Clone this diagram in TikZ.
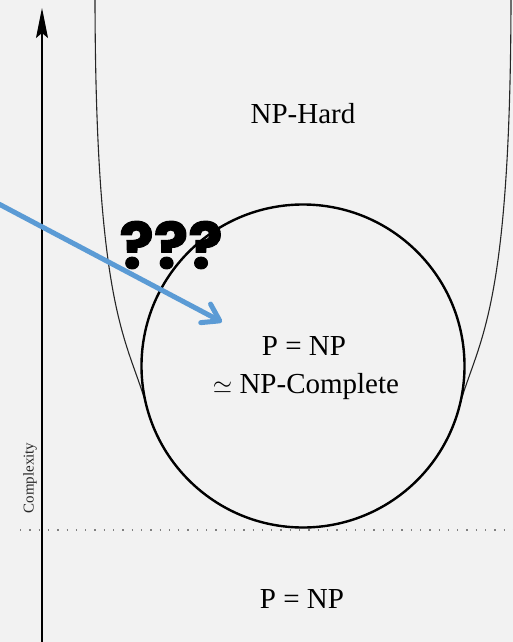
\documentclass[tikz,border=0pt]{standalone}
\usepackage{fontspec}
\setmainfont{Liberation Serif}
\newfontfamily\qfont{Poppins}[BoldFeatures={FakeBold=1.5}]
\usetikzlibrary{arrows.meta}
\definecolor{bg}{HTML}{F2F2F2}
\definecolor{arrowblue}{HTML}{5B9BD5}
\begin{document}
\begin{tikzpicture}[x=1pt,y=-1pt,
  lbl/.style={font=\fontsize{29}{34}\selectfont, inner sep=0pt, anchor=base},
  setcircle/.style={circle, draw=black, line width=2.4pt, minimum size=323pt, inner sep=0pt},
  uline/.style={draw=black!85, line width=1.1pt},
  axisline/.style={draw=black, line width=1.3pt, -{Stealth[length=30pt,width=12pt,inset=5pt]}},
  dotline/.style={draw=black!50, line width=1.3pt, dash pattern=on 1.3pt off 8pt},
  bluearrow/.style={draw=arrowblue, line width=5pt, line cap=round,
    -{Straight Barb[length=16pt,width=21pt,round]}},
  qmarks/.style={font=\qfont\bfseries\fontsize{64}{70}\selectfont, inner sep=0pt}
]
\useasboundingbox (0,0) rectangle (513,642);
\fill[bg] (0,0) rectangle (513,642);
\clip (0,0) rectangle (513,642);

% U-shaped NP-hard boundary
\draw[uline] (95,-2) .. controls (95.5,320) and (128.9,340.4) .. (147.1,408)
  arc[start angle=164.9, end angle=15.1, radius=161.5]
  .. controls (477.1,340.4) and (510.5,320) .. (511,-2);

% circle P = NP = NP-complete
\node[setcircle] (setc) at (303,366) {};

% dotted level line
\coordinate (dl) at (20,530);
\coordinate (dr) at (514,530);
\draw[dotline] (dl) -- (dr);

% complexity axis
\coordinate (ab) at (42,643);
\coordinate (at) at (42,8);
\draw[axisline] (ab) -- (at);
\node[rotate=90, font=\fontsize{15}{18}\selectfont, text=black!85, inner sep=0pt] (cx) at (30,478) {Complexity};

% labels
\node[lbl] (hard) at (303,123.3) {NP-Hard};
\node[lbl] (pnp1) at (304,355) {P = NP};
\node[lbl] (npc) at (306,393) {$\simeq$ NP-Complete};
\node[lbl] (pnp2) at (302,608.3) {P = NP};

% question marks and arrow
\node[qmarks] (q) at (171,245) {???};
\coordinate (bs) at (-3,203);
\coordinate (be) at (222,322);
\draw[bluearrow] (bs) -- (be);
\end{tikzpicture}
\end{document}
